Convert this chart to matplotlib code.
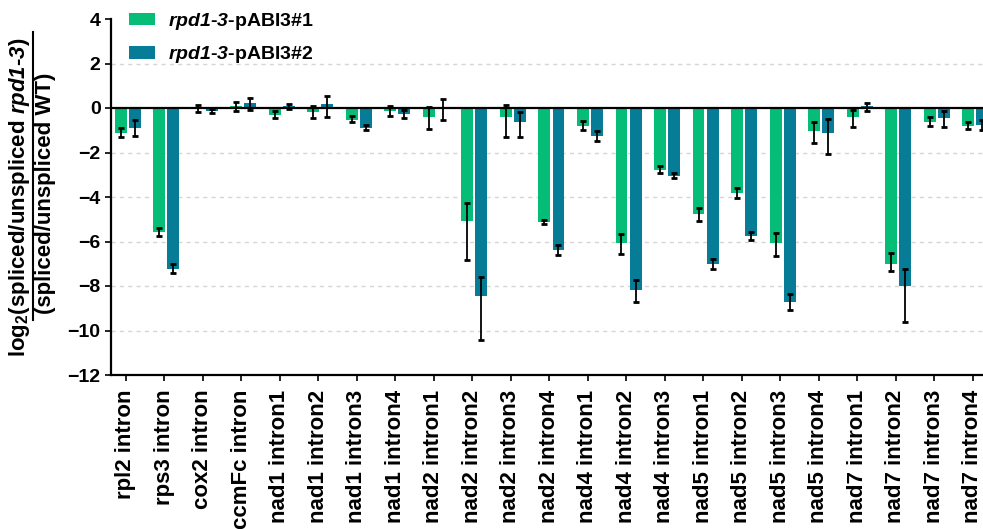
import matplotlib
matplotlib.use('Agg')
import matplotlib.pyplot as plt
from matplotlib.lines import Line2D
import numpy as np

plt.rcParams['font.family'] = ['Liberation Sans', 'DejaVu Sans']
plt.rcParams['font.weight'] = 'bold'
# math text: italic gene names (digits too), upright bold subscripts via \mathbf
plt.rcParams['mathtext.fontset'] = 'custom'
plt.rcParams['mathtext.rm'] = 'Liberation Sans:bold:italic'
plt.rcParams['mathtext.it'] = 'Liberation Sans:bold:italic'
plt.rcParams['mathtext.bf'] = 'Liberation Sans:bold'

introns = ['rpl2 intron', 'rps3 intron', 'cox2 intron', 'ccmFc intron',
           'nad1 intron1', 'nad1 intron2', 'nad1 intron3', 'nad1 intron4',
           'nad2 intron1', 'nad2 intron2', 'nad2 intron3', 'nad2 intron4',
           'nad4 intron1', 'nad4 intron2', 'nad4 intron3',
           'nad5 intron1', 'nad5 intron2', 'nad5 intron3', 'nad5 intron4',
           'nad7 intron1', 'nad7 intron2', 'nad7 intron3', 'nad7 intron4']

# line #1: log2 ratio, lower / upper error
line1 = [-1.12, -5.57, -0.03, 0.09, -0.31, -0.18, -0.54, -0.13, -0.40, -5.08, -0.40, -5.12,
         -0.81, -6.07, -2.79, -4.76, -3.82, -6.07, -1.03, -0.40, -7.01, -0.63, -0.81]
line1_lo = [0.18, 0.18, 0.16, 0.22, 0.15, 0.27, 0.10, 0.23, 0.54, 1.73, 0.90, 0.11,
            0.19, 0.51, 0.13, 0.32, 0.24, 0.58, 0.53, 0.45, 0.32, 0.18, 0.13]
line1_hi = [0.24, 0.18, 0.15, 0.17, 0.18, 0.27, 0.17, 0.22, 0.44, 0.80, 0.55, 0.10,
            0.23, 0.42, 0.17, 0.25, 0.24, 0.47, 0.39, 0.33, 0.51, 0.23, 0.17]

# line #2
line2 = [-0.90, -7.24, -0.13, 0.21, 0.08, 0.17, -0.90, -0.27, -0.05, -8.45, -0.63, -6.38,
         -1.26, -8.18, -3.06, -7.01, -5.75, -8.72, -1.12, 0.08, -8.00, -0.45, -0.76]
line2_lo = [0.34, 0.18, 0.09, 0.31, 0.12, 0.57, 0.10, 0.18, 0.50, 1.99, 0.67, 0.24,
            0.21, 0.55, 0.09, 0.24, 0.18, 0.34, 0.93, 0.23, 1.63, 0.40, 0.21]
line2_hi = [0.35, 0.22, 0.10, 0.26, 0.12, 0.37, 0.14, 0.17, 0.44, 0.85, 0.45, 0.22,
            0.23, 0.47, 0.13, 0.22, 0.16, 0.35, 0.61, 0.16, 0.76, 0.32, 0.22]

green = '#06BD78'
teal = '#067C97'

W, H = 983, 529
fig = plt.figure(figsize=(W / 100, H / 100), dpi=100)
ax = fig.add_axes([111 / W, (H - 375) / H, (W - 111) / W, (375 - 19) / H])

x = np.arange(len(introns))
bw = 0.31
ax.bar(x - 0.125, line1, bw, color=green, zorder=2,
       label=r'$\mathit{rpd1}$-$3$-pABI3#1')
ax.bar(x + 0.24, line2, bw, color=teal, zorder=2,
       label=r'$\mathit{rpd1}$-$3$-pABI3#2')
ekw = dict(fmt='none', ecolor='black', elinewidth=1.3, capsize=2.3, capthick=2.0, zorder=3)
ax.errorbar(x - 0.125, line1, yerr=[line1_lo, line1_hi], **ekw)
ax.errorbar(x + 0.24, line2, yerr=[line2_lo, line2_hi], **ekw)

ax.axhline(0, color='black', lw=1.6, zorder=4)
for yv in [2, -2, -4, -6, -8, -10]:
    ax.axhline(yv, color='#d6d6d6', lw=1, ls=(0, (3, 3)), zorder=0)

ax.set_xlim(-0.377, 22.26)
ax.set_ylim(-12, 4)
ax.set_yticks(range(-12, 5, 2))
ax.set_xticks(x)
ax.set_xticklabels(introns, rotation=90, fontsize=16, fontweight='bold')
ax.tick_params(axis='y', labelsize=14, length=4.5, width=1.2, pad=3)
ax.tick_params(axis='x', length=4.5, width=1.2, pad=6)
for lab in ax.get_yticklabels():
    lab.set_fontweight('bold')
for side in ['top', 'right']:
    ax.spines[side].set_visible(False)
for side in ['left', 'bottom']:
    ax.spines[side].set_linewidth(1.6)

fig.legend(loc='upper left', bbox_to_anchor=(129 / W, 1 - 11 / H), frameon=False,
           prop={'size': 14, 'weight': 'bold'}, borderpad=0, borderaxespad=0,
           handlelength=1.34, handleheight=0.62, handletextpad=0.67, labelspacing=0.62)

# y axis label drawn as a fraction
fig.text(19 / W, 1 - 357 / H, r'log$_\mathbf{2}$(spliced/unspliced $\mathit{rpd1}$-$3$)',
         rotation=90, rotation_mode='anchor', ha='left', va='center', fontsize=16,
         fontweight='bold')
fig.text(46 / W, 1 - 193 / H, '(spliced/unspliced WT)', rotation=90,
         rotation_mode='anchor', ha='center', va='center', fontsize=16, fontweight='bold')
fig.add_artist(Line2D([33 / W, 33 / W], [1 - 32 / H, 1 - 320 / H], lw=1.5,
                      color='black', transform=fig.transFigure))

fig.savefig('out.png', dpi=100)
